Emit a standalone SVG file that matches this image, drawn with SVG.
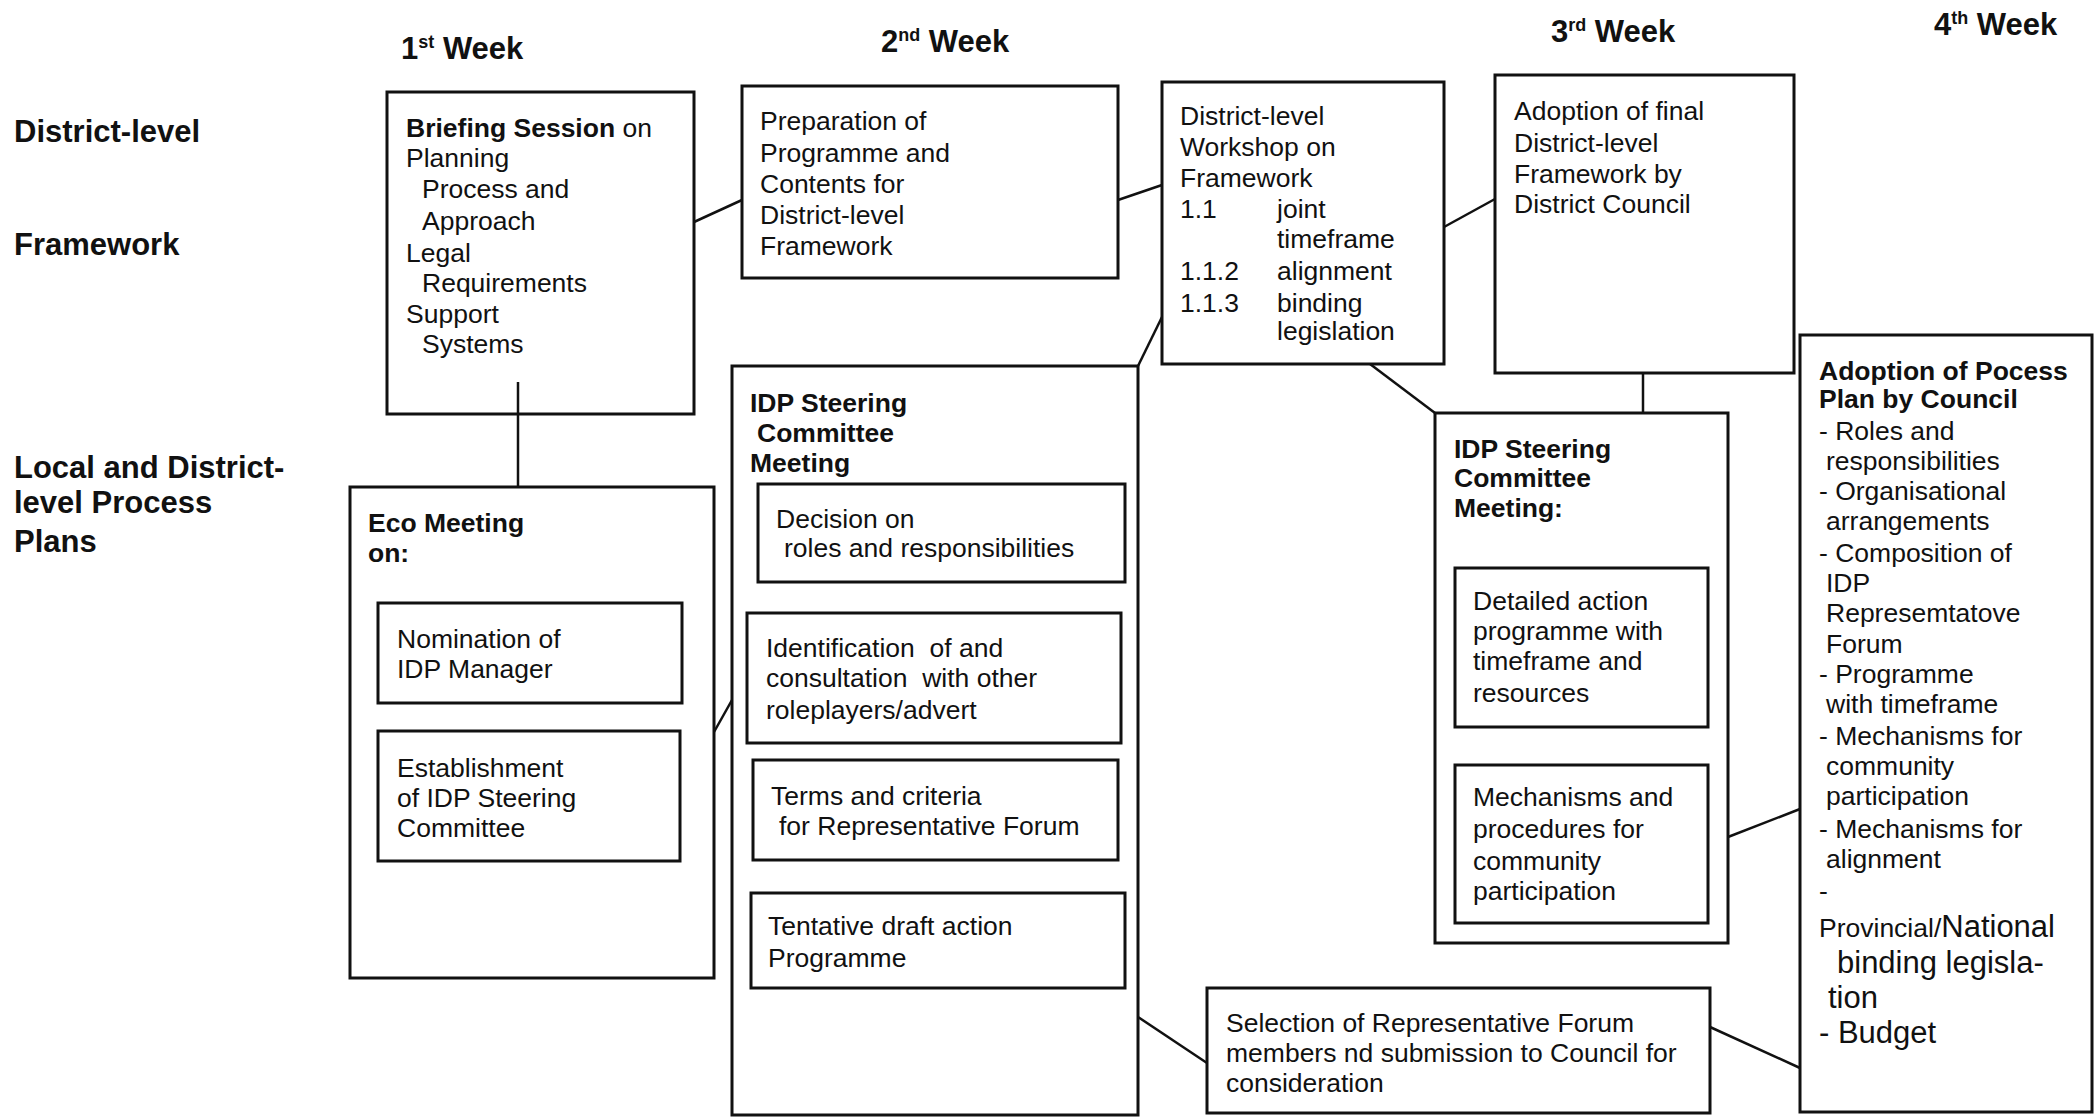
<svg xmlns="http://www.w3.org/2000/svg" width="2095" height="1119" viewBox="0 0 2095 1119">
  <style>
    text { font-family: "Liberation Sans", Arial, sans-serif; fill: #111; }
    .head { font-size: 31px; font-weight: bold; }
    .sup { font-size: 18px; }
    .body { font-size: 26.5px; }
    .b { font-weight: bold; }
    .big { font-size: 31px; }
    .box { fill: #fff; stroke: #111; stroke-width: 3; }
    .link { stroke: #111; stroke-width: 2.5; fill: none; }
  </style>

  <rect width="2095" height="1119" fill="#fff"/>

  <!-- row labels -->
  <g id="row-labels" class="head">
    <text x="14" y="142">District-level</text>
    <text x="14" y="255">Framework</text>
    <text x="14" y="478">Local and District-</text>
    <text x="14" y="513">level Process</text>
    <text x="14" y="552">Plans</text>
  </g>

  <!-- week headings -->
  <g id="week-headings" class="head">
    <text x="401" y="59">1<tspan class="sup" dy="-11">st</tspan><tspan dy="11"> Week</tspan></text>
    <text x="881" y="52">2<tspan class="sup" dy="-11">nd</tspan><tspan dy="11"> Week</tspan></text>
    <text x="1551" y="42">3<tspan class="sup" dy="-11">rd</tspan><tspan dy="11"> Week</tspan></text>
    <text x="1934" y="35">4<tspan class="sup" dy="-11">th</tspan><tspan dy="11"> Week</tspan></text>
  </g>

  <!-- connectors -->
  <g id="connectors" class="link">
    <line x1="694" y1="222" x2="742" y2="200"/>
    <line x1="1118" y1="200" x2="1162" y2="185"/>
    <line x1="1444" y1="227" x2="1495" y2="199"/>
    <line x1="518" y1="382" x2="518" y2="487"/>
    <line x1="1162" y1="317" x2="1138" y2="366"/>
    <line x1="1370" y1="364" x2="1435" y2="413"/>
    <line x1="1643" y1="373" x2="1643" y2="413"/>
    <line x1="714" y1="732" x2="732" y2="700"/>
    <line x1="1138" y1="1017" x2="1207" y2="1063"/>
    <line x1="1710" y1="1027" x2="1800" y2="1068"/>
    <line x1="1728" y1="837" x2="1800" y2="809"/>
  </g>

  <!-- week 1: briefing session -->
  <g id="briefing">
    <rect class="box" x="387" y="92" width="307" height="322" fill="none" style="fill:none"/>
    <text class="body">
      <tspan x="406" y="137"><tspan class="b">Briefing Session</tspan> on</tspan>
      <tspan x="406" y="167">Planning</tspan>
      <tspan x="422" y="198">Process and</tspan>
      <tspan x="422" y="230">Approach</tspan>
      <tspan x="406" y="262">Legal</tspan>
      <tspan x="422" y="292">Requirements</tspan>
      <tspan x="406" y="323">Support</tspan>
      <tspan x="422" y="353">Systems</tspan>
    </text>
  </g>

  <!-- week 1: eco meeting -->
  <g id="eco-meeting">
    <rect class="box" x="350" y="487" width="364" height="491"/>
    <text class="body b">
      <tspan x="368" y="532">Eco Meeting</tspan>
      <tspan x="368" y="562">on:</tspan>
    </text>
  </g>
  <g id="nomination">
    <rect class="box" x="378" y="603" width="304" height="100"/>
    <text class="body">
      <tspan x="397" y="648">Nomination of</tspan>
      <tspan x="397" y="678">IDP Manager</tspan>
    </text>
  </g>
  <g id="establishment">
    <rect class="box" x="378" y="731" width="302" height="130"/>
    <text class="body">
      <tspan x="397" y="777">Establishment</tspan>
      <tspan x="397" y="807">of IDP Steering</tspan>
      <tspan x="397" y="837">Committee</tspan>
    </text>
  </g>

  <!-- week 2: preparation -->
  <g id="preparation">
    <rect class="box" x="742" y="86" width="376" height="192"/>
    <text class="body">
      <tspan x="760" y="130">Preparation of</tspan>
      <tspan x="760" y="162">Programme and</tspan>
      <tspan x="760" y="193">Contents for</tspan>
      <tspan x="760" y="224">District-level</tspan>
      <tspan x="760" y="255">Framework</tspan>
    </text>
  </g>

  <!-- week 2: district-level workshop -->
  <g id="workshop">
    <rect class="box" x="1162" y="82" width="282" height="282"/>
    <text class="body">
      <tspan x="1180" y="125">District-level</tspan>
      <tspan x="1180" y="156">Workshop on</tspan>
      <tspan x="1180" y="187">Framework</tspan>
      <tspan x="1180" y="218">1.1</tspan><tspan x="1277" y="218">joint</tspan>
      <tspan x="1277" y="248">timeframe</tspan>
      <tspan x="1180" y="280">1.1.2</tspan><tspan x="1277" y="280">alignment</tspan>
      <tspan x="1180" y="312">1.1.3</tspan><tspan x="1277" y="312">binding</tspan>
      <tspan x="1277" y="340">legislation</tspan>
    </text>
  </g>

  <!-- week 2: IDP steering committee meeting -->
  <g id="idp-steering-2">
    <rect class="box" x="732" y="366" width="406" height="749"/>
    <text class="body b">
      <tspan x="750" y="412">IDP Steering</tspan>
      <tspan x="757" y="442">Committee</tspan>
      <tspan x="750" y="472">Meeting</tspan>
    </text>
  </g>
  <g id="decision">
    <rect class="box" x="758" y="484" width="367" height="98"/>
    <text class="body">
      <tspan x="776" y="528">Decision on</tspan>
      <tspan x="784" y="557">roles and responsibilities</tspan>
    </text>
  </g>
  <g id="identification">
    <rect class="box" x="747" y="613" width="374" height="130"/>
    <text class="body" xml:space="preserve"><tspan x="766" y="657">Identification  of and</tspan><tspan x="766" y="687">consultation  with other</tspan><tspan x="766" y="719">roleplayers/advert</tspan></text>
  </g>
  <g id="terms">
    <rect class="box" x="753" y="760" width="365" height="100"/>
    <text class="body">
      <tspan x="771" y="805">Terms and criteria</tspan>
      <tspan x="779" y="835">for Representative Forum</tspan>
    </text>
  </g>
  <g id="tentative">
    <rect class="box" x="751" y="893" width="374" height="95"/>
    <text class="body">
      <tspan x="768" y="935">Tentative draft action</tspan>
      <tspan x="768" y="967">Programme</tspan>
    </text>
  </g>

  <!-- week 3: adoption of final framework -->
  <g id="adoption-final">
    <rect class="box" x="1495" y="75" width="299" height="298"/>
    <text class="body">
      <tspan x="1514" y="120">Adoption of final</tspan>
      <tspan x="1514" y="152">District-level</tspan>
      <tspan x="1514" y="183">Framework by</tspan>
      <tspan x="1514" y="213">District Council</tspan>
    </text>
  </g>

  <!-- week 3: IDP steering committee meeting -->
  <g id="idp-steering-3">
    <rect class="box" x="1435" y="413" width="293" height="530"/>
    <text class="body b">
      <tspan x="1454" y="458">IDP Steering</tspan>
      <tspan x="1454" y="487">Committee</tspan>
      <tspan x="1454" y="517">Meeting:</tspan>
    </text>
  </g>
  <g id="detailed-action">
    <rect class="box" x="1455" y="568" width="253" height="159"/>
    <text class="body">
      <tspan x="1473" y="610">Detailed action</tspan>
      <tspan x="1473" y="640">programme with</tspan>
      <tspan x="1473" y="670">timeframe and</tspan>
      <tspan x="1473" y="702">resources</tspan>
    </text>
  </g>
  <g id="mechanisms">
    <rect class="box" x="1455" y="765" width="253" height="158"/>
    <text class="body">
      <tspan x="1473" y="806">Mechanisms and</tspan>
      <tspan x="1473" y="838">procedures for</tspan>
      <tspan x="1473" y="870">community</tspan>
      <tspan x="1473" y="900">participation</tspan>
    </text>
  </g>

  <!-- week 3: selection of representative forum -->
  <g id="selection">
    <rect class="box" x="1207" y="988" width="503" height="125"/>
    <text class="body">
      <tspan x="1226" y="1032">Selection of Representative Forum</tspan>
      <tspan x="1226" y="1062">members nd submission to Council for</tspan>
      <tspan x="1226" y="1092">consideration</tspan>
    </text>
  </g>

  <!-- week 4: adoption of process plan -->
  <g id="adoption-process">
    <rect class="box" x="1800" y="335" width="292" height="777"/>
    <text class="body">
      <tspan class="b" x="1819" y="380">Adoption of Pocess</tspan>
      <tspan class="b" x="1819" y="408">Plan by Council</tspan>
      <tspan x="1819" y="440">- Roles and</tspan>
      <tspan x="1826" y="470">responsibilities</tspan>
      <tspan x="1819" y="500">- Organisational</tspan>
      <tspan x="1826" y="530">arrangements</tspan>
      <tspan x="1819" y="562">- Composition of</tspan>
      <tspan x="1826" y="592">IDP</tspan>
      <tspan x="1826" y="622">Represemtatove</tspan>
      <tspan x="1826" y="653">Forum</tspan>
      <tspan x="1819" y="683">- Programme</tspan>
      <tspan x="1826" y="713">with timeframe</tspan>
      <tspan x="1819" y="745">- Mechanisms for</tspan>
      <tspan x="1826" y="775">community</tspan>
      <tspan x="1826" y="805">participation</tspan>
      <tspan x="1819" y="838">- Mechanisms for</tspan>
      <tspan x="1826" y="868">alignment</tspan>
      <tspan x="1819" y="900">-</tspan>
      <tspan x="1819" y="937">Provincial/<tspan class="big">National</tspan></tspan>
      <tspan class="big" x="1837" y="973">binding legisla-</tspan>
      <tspan class="big" x="1828" y="1008">tion</tspan>
      <tspan class="big" x="1819" y="1043">- Budget</tspan>
    </text>
  </g>
</svg>
